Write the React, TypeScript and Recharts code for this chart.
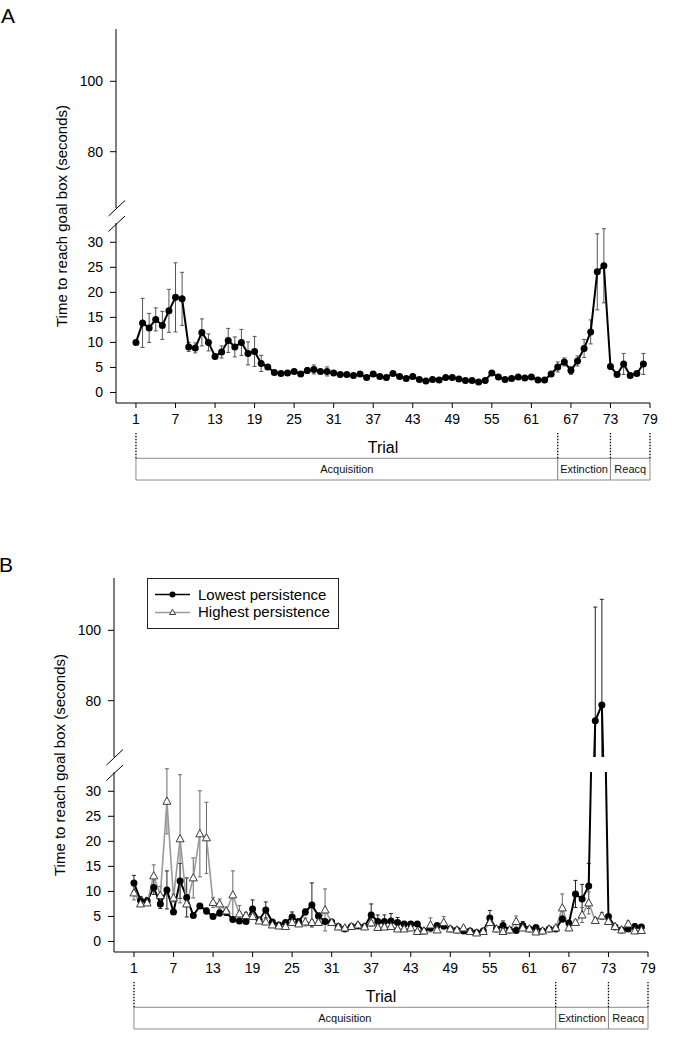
import { LineChart, Line, XAxis, YAxis, ErrorBar, ReferenceArea, ReferenceLine, Legend } from "recharts";

const FONT = "'Liberation Sans', Arial, Helvetica, sans-serif";

// ---- data ----
// A: all rats, mean time (s) per trial 1..78, with SE
const aMean = [
  10.0, 13.9, 12.9, 14.6, 13.4, 16.3, 19.0, 18.7, 9.1, 8.9,
  12.0, 10.0, 7.2, 8.1, 10.4, 9.1, 10.0, 7.8, 8.2, 5.8,
  5.1, 4.0, 3.8, 3.9, 4.2, 3.7, 4.4, 4.6, 4.2, 4.2,
  3.9, 3.6, 3.6, 3.4, 3.7, 3.0, 3.7, 3.2, 3.0, 3.8,
  3.2, 2.8, 3.2, 2.6, 2.3, 2.6, 2.5, 3.0, 3.0, 2.7,
  2.4, 2.4, 2.1, 2.4, 3.9, 3.1, 2.6, 2.8, 3.1, 2.9,
  3.1, 2.5, 2.5, 3.7, 5.1, 6.1, 4.4, 6.3, 8.8, 12.1,
  24.1, 25.3, 5.2, 3.6, 5.7, 3.4, 3.8, 5.7,
];
const aErr = [
  0.4, 4.9, 2.9, 2.3, 2.8, 4.3, 6.9, 5.3, 0.9, 1.0,
  2.7, 1.7, 0.4, 1.2, 2.4, 2.0, 2.6, 2.3, 3.0, 1.6,
  0.4, 0.3, 0.3, 0.3, 0.3, 0.3, 0.6, 0.9, 0.4, 0.9,
  0.4, 0.3, 0.3, 0.3, 0.4, 0.3, 0.3, 0.3, 0.3, 0.3,
  0.3, 0.3, 0.3, 0.3, 0.3, 0.3, 0.3, 0.3, 0.3, 0.3,
  0.3, 0.3, 0.3, 0.3, 0.4, 0.3, 0.3, 0.3, 0.3, 0.3,
  0.3, 0.3, 0.3, 0.4, 1.0, 0.8, 0.8, 1.0, 1.8, 2.4,
  7.6, 7.4, 0.4, 0.3, 2.1, 0.3, 0.3, 2.1,
];

// B: lowest vs highest persistence groups
const bLowMean = [
  11.7, 8.2, 8.1, 10.8, 7.5, 10.3, 5.9, 12.1, 8.8, 5.2,
  7.1, 6.1, 5.0, 5.7, 5.8, 4.4, 4.1, 4.0, 6.5, 4.3,
  6.3, 3.9, 3.3, 3.8, 4.9, 4.0, 5.9, 7.3, 5.1, 4.0,
  3.9, 3.0, 2.5, 3.0, 3.1, 3.0, 5.3, 4.0, 4.0, 4.1,
  3.8, 3.5, 3.5, 3.5, 2.1, 2.7, 3.2, 3.1, 2.5, 2.3,
  2.1, 2.1, 1.8, 2.1, 4.7, 2.5, 3.2, 2.3, 2.2, 3.2,
  2.5, 2.8, 2.1, 2.5, 2.5, 4.5, 3.7, 9.5, 8.5, 11.1,
  74.3, 78.8, 5.0, 2.9, 2.3, 2.5, 3.0, 2.9,
];
const bLowErr = [
  1.5, 0.8, 0.7, 1.4, 0.9, 3.8, 0.5, 3.5, 3.9, 0.4,
  0.5, 0.6, 0.4, 0.6, 0.5, 0.4, 0.4, 0.4, 1.8, 0.4,
  1.6, 0.3, 0.3, 0.3, 1.0, 0.4, 0.6, 4.4, 0.6, 0.4,
  0.3, 0.3, 0.3, 0.3, 0.3, 0.3, 2.2, 1.3, 1.3, 1.5,
  1.0, 0.5, 0.5, 0.3, 0.3, 0.3, 0.3, 0.6, 0.3, 0.3,
  0.3, 0.3, 0.3, 0.3, 1.5, 0.3, 0.9, 0.3, 0.3, 0.8,
  0.3, 0.3, 0.3, 0.3, 0.3, 0.6, 0.4, 2.7, 2.9, 4.5,
  32.3, 30.0, 0.4, 0.3, 0.3, 0.3, 0.5, 0.4,
];
const bHighMean = [
  9.7, 7.5, 7.7, 13.1, 9.2, 28.0, 8.7, 20.5, 7.5, 12.7,
  21.5, 20.7, 7.8, 7.5, 6.1, 9.3, 5.5, 5.2, 5.0, 4.1,
  3.9, 3.3, 3.1, 3.0, 3.8, 3.5, 3.9, 3.8, 3.8, 6.3,
  3.8, 2.9, 2.7, 3.0, 3.3, 2.9, 3.7, 2.8, 2.9, 3.0,
  2.5, 2.5, 2.7, 2.0, 2.1, 3.3, 2.3, 3.8, 2.5, 2.3,
  2.7, 2.0, 1.7, 2.0, 3.8, 2.5, 2.0, 2.3, 4.0, 2.7,
  2.5, 1.9, 2.1, 2.5, 2.7, 6.7, 2.7, 3.8, 5.3, 7.7,
  4.2, 5.1, 4.0, 3.0, 2.3, 3.5, 2.1, 2.2,
];
const bHighErr = [
  1.4, 0.5, 0.5, 2.2, 1.8, 6.5, 0.8, 12.8, 0.6, 4.0,
  8.6, 7.1, 1.0, 1.0, 0.8, 4.8, 1.7, 0.6, 0.5, 0.4,
  0.4, 0.3, 0.3, 0.3, 0.4, 0.3, 0.8, 0.5, 0.4, 4.2,
  0.3, 0.3, 0.3, 0.3, 0.5, 0.3, 0.5, 0.3, 0.3, 0.3,
  0.3, 0.3, 0.3, 0.3, 0.3, 1.4, 0.3, 1.2, 0.3, 0.3,
  0.3, 0.3, 0.3, 0.3, 0.6, 0.3, 0.3, 0.3, 1.1, 0.3,
  0.3, 0.3, 0.3, 0.3, 0.3, 2.8, 0.3, 0.5, 1.5, 2.2,
  0.6, 0.7, 0.4, 0.3, 0.3, 0.6, 0.3, 0.3,
];

const xTicks = [1, 7, 13, 19, 25, 31, 37, 43, 49, 55, 61, 67, 73, 79];
const upperTicks = [80, 100];
const lowerTicks = [0, 5, 10, 15, 20, 25, 30];
const phaseNames = ["Acquisition", "Extinction", "Reacq"];
const phaseBounds = [1, 65, 73, 79];

const panelARows = aMean.map((v, i) => ({ trial: i + 1, low: v, lowErr: aErr[i] }));
const panelBRows = bLowMean.map((v, i) => ({
  trial: i + 1,
  low: v,
  lowErr: bLowErr[i],
  high: bHighMean[i],
  highErr: bHighErr[i],
}));
const stripRows = phaseBounds.map((t) => ({ trial: t }));

// ---- layout ----
const W = 675;
const X_DOMAIN: [number, number] = [-2.03, 79];
const UPPER_DOMAIN: [number, number] = [64, 114.86];
const LOWER_DOMAIN: [number, number] = [-2.1, 33.85];
const MARGIN_X = { left: 60, right: 25 };
const Y_W = 56;
const BOX_TOP = 0.462;

const axisTick = { fill: "#000", fontSize: 14 };

const Triangle = (props: any) => {
  const { cx, cy, index } = props;
  if (cx == null || cy == null) return <g key={`t-${index}`} />;
  return (
    <polygon
      key={`t-${index}`}
      points={`${cx},${cy - 4.3} ${cx - 4},${cy + 3} ${cx + 4},${cy + 3}`}
      fill="#fff"
      stroke="#3a3a3a"
      strokeWidth={1}
    />
  );
};

function seriesLines(withHigh: boolean, tag: string) {
  const els = [
    <Line
      key={`${tag}-low`}
      type="linear"
      dataKey="low"
      name="Lowest persistence"
      stroke="#000"
      strokeWidth={2}
      dot={{ r: 3.5, fill: "#000", stroke: "#000", strokeWidth: 0 }}
      activeDot={false}
      isAnimationActive={false}
    >
      <ErrorBar dataKey="lowErr" width={2} stroke={withHigh ? "#222" : "#555"} strokeWidth={1} direction="y" />
    </Line>,
  ];
  if (withHigh) {
    els.push(
      <Line
        key={`${tag}-high`}
        type="linear"
        dataKey="high"
        name="Highest persistence"
        stroke="#9a9a9a"
        strokeWidth={1.6}
        dot={Triangle}
        activeDot={false}
        isAnimationActive={false}
      >
        <ErrorBar dataKey="highErr" width={2} stroke="#6a6a6a" strokeWidth={1} direction="y" />
      </Line>
    );
  }
  return els;
}

const legendOrder = ["low", "high"];

const LegendBox = (props: any) => {
  const payload = [...(props.payload || [])].sort(
    (a: any, b: any) => legendOrder.indexOf(a.dataKey) - legendOrder.indexOf(b.dataKey)
  );
  return (
    <div
      style={{
        boxSizing: "border-box",
        border: "1px solid #222",
        background: "#fff",
        width: 192,
        padding: "7px 0 7px 7px",
        fontSize: 15,
        lineHeight: "17.4px",
        color: "#000",
        fontFamily: FONT,
      }}
    >
      {payload.map((entry: any) => {
        const isLow = entry.dataKey === "low";
        return (
          <div key={entry.dataKey} style={{ display: "flex", alignItems: "center", height: 17.4 }}>
            <svg width={36} height={17} style={{ flex: "none" }}>
              <line x1={0} y1={8.5} x2={35} y2={8.5} stroke={isLow ? "#000" : "#9a9a9a"} strokeWidth={1.5} />
              {isLow ? (
                <circle cx={17.5} cy={8.5} r={3} fill="#000" />
              ) : (
                <polygon points="17.5,5.3 14.5,10.5 20.5,10.5" fill="#fff" stroke="#3a3a3a" strokeWidth={1} />
              )}
            </svg>
            <span style={{ marginLeft: 7, whiteSpace: "nowrap" }}>{entry.value}</span>
          </div>
        );
      })}
    </div>
  );
};

const Panel = ({ top, left, letter, rows, withHigh }: any) => (
  <div style={{ position: "absolute", top, left, width: W, height: 500 }}>
    {/* upper part of the broken axis */}
    <div style={{ position: "absolute", top: 0, left: 0 }}>
      <LineChart width={W} height={208} data={rows} margin={{ top: 29, right: MARGIN_X.right, bottom: 0, left: MARGIN_X.left }}>
        <XAxis dataKey="trial" type="number" domain={X_DOMAIN} allowDataOverflow hide />
        <YAxis
          type="number"
          domain={UPPER_DOMAIN}
          ticks={upperTicks}
          allowDataOverflow
          interval={0}
          width={Y_W}
          tickSize={6}
          tickMargin={7}
          tick={axisTick}
          axisLine={{ stroke: "#000" }}
          tickLine={{ stroke: "#000" }}
        />
        {seriesLines(withHigh, "up")}
        {withHigh && (
          <Legend
            layout="vertical"
            align="center"
            verticalAlign="middle"
            content={LegendBox}
            wrapperStyle={{ left: 149, top: 29, width: "auto", height: "auto" }}
          />
        )}
      </LineChart>
    </div>

    {/* lower part */}
    <div style={{ position: "absolute", top: 218, left: 0 }}>
      <LineChart width={W} height={242} data={rows} margin={{ top: 5, right: MARGIN_X.right, bottom: 7, left: MARGIN_X.left }}>
        <XAxis
          dataKey="trial"
          type="number"
          domain={X_DOMAIN}
          allowDataOverflow
          ticks={xTicks}
          interval={0}
          height={50}
          tickSize={5}
          tickMargin={6}
          tick={axisTick}
          axisLine={{ stroke: "#000" }}
          tickLine={{ stroke: "#000" }}
          label={{ value: "Trial", position: "insideBottom", offset: 0, fontSize: 16, fill: "#000" }}
        />
        <YAxis
          type="number"
          domain={LOWER_DOMAIN}
          ticks={lowerTicks}
          allowDataOverflow
          interval={0}
          width={Y_W}
          tickSize={6}
          tickMargin={7}
          tick={axisTick}
          axisLine={{ stroke: "#000" }}
          tickLine={{ stroke: "#000" }}
        />
        {seriesLines(withHigh, "lo")}
      </LineChart>
    </div>

    {/* phase strip under the x axis */}
    <div style={{ position: "absolute", top: 433, left: 0 }}>
      <LineChart width={W} height={48} data={stripRows} margin={{ top: 0, right: MARGIN_X.right, bottom: 1, left: MARGIN_X.left + Y_W }}>
        <XAxis dataKey="trial" type="number" domain={X_DOMAIN} allowDataOverflow hide />
        <YAxis type="number" domain={[0, 1]} allowDataOverflow hide />
        {phaseBounds.map((b) => (
          <ReferenceLine
            key={`d-${b}`}
            segment={[
              { x: b, y: BOX_TOP },
              { x: b, y: 1 },
            ]}
            stroke="#000"
            strokeWidth={1.3}
            strokeDasharray="1.5 1.5"
            ifOverflow="visible"
          />
        ))}
        {phaseNames.map((name, i) => (
          <ReferenceArea
            key={name}
            x1={phaseBounds[i]}
            x2={phaseBounds[i + 1]}
            y1={0}
            y2={BOX_TOP}
            fill="#fff"
            fillOpacity={1}
            stroke="#8a8a8a"
            strokeWidth={1}
            ifOverflow="visible"
            label={{ value: name, position: "center", fontSize: 11, fill: "#111" }}
          />
        ))}
      </LineChart>
    </div>

    {/* panel letter, shared y title, axis-break marks */}
    <svg width={W} height={500} style={{ position: "absolute", top: 0, left: 0, pointerEvents: "none" }}>
      <text x={1} y={23} fontSize={21} fill="#000">
        {letter}
      </text>
      <text
        transform="translate(61,216) rotate(-90)"
        textAnchor="middle"
        dominantBaseline="central"
        fontSize={15}
        fill="#000"
      >
        Time to reach goal box (seconds)
      </text>
      <line x1={108.5} y1={216} x2={125} y2={200.5} stroke="#000" strokeWidth={1} />
      <line x1={108.5} y1={231.5} x2={125} y2={216} stroke="#000" strokeWidth={1} />
    </svg>
  </div>
);

export default function App() {
  return (
    <div
      style={{
        position: "absolute",
        top: 0,
        left: 0,
        width: W,
        height: 1050,
        background: "#fff",
        fontFamily: FONT,
        overflow: "hidden",
      }}
    >
      <Panel top={0} left={0} letter="A" rows={panelARows} withHigh={false} />
      <Panel top={549} left={-2} letter="B" rows={panelBRows} withHigh={true} />
    </div>
  );
}
